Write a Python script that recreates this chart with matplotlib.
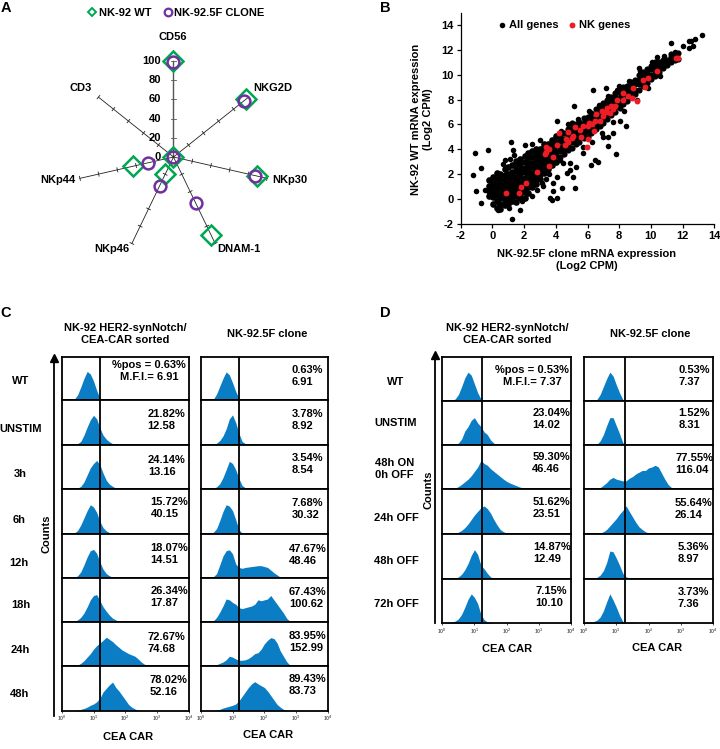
import numpy as np
import matplotlib
matplotlib.use('Agg')
import matplotlib.pyplot as plt
from matplotlib.lines import Line2D

plt.rcParams['font.family'] = ['Liberation Sans', 'DejaVu Sans']
plt.rcParams['font.weight'] = 'bold'
plt.rcParams['mathtext.default'] = 'regular'
plt.rcParams['axes.unicode_minus'] = False

W, H = 720, 749
GREEN = '#00A651'
PURPLE = '#7030A0'
BLUE = '#0B7DC4'
RED = '#EE1C25'

# panel A, % positive per marker
markers = ['CD56', 'NKG2D', 'NKp30', 'DNAM-1', 'NKp46', 'NKp44', 'CD3']
wt_pct = [100, 97, 89, 90, 20, 43, 0]
clone_pct = [99, 94, 87, 53, 33, 27, 0]
radial_ticks = [0, 20, 40, 60, 80, 100]
marker_label_px = [(172.7, 37), (272.7, 88), (290, 180), (239, 249), (112, 249), (58, 180), (81, 88)]

# panel B, scatter (x slice -> y values seen in the dense band)
band_x = [-0.2, 0.02, 0.26, 0.49, 0.77, 1.01, 1.24, 1.52, 1.74, 2.03, 2.27, 2.48, 2.76, 3.02, 3.24, 3.53, 3.77, 4.01]
band_y = [
    [0.2, 0.65, 1.0, 1.55],
    [-0.4, 0.12, 0.5, 0.93, 1.3, 1.8],
    [-0.7, -0.2, 0.33, 0.7, 1.14, 1.6, 2.1],
    [-0.85, -0.4, 0.03, 0.42, 0.8, 1.22, 1.63, 2.0],
    [-0.5, -0.12, 0.3, 0.74, 1.1, 1.52, 1.9, 2.4],
    [-0.4, 0.02, 0.44, 0.8, 1.25, 1.6, 2.03, 2.55],
    [-0.2, 0.2, 0.63, 1.0, 1.42, 1.83, 2.2, 2.72],
    [-0.25, 0.22, 0.6, 1.04, 1.4, 1.8, 2.24, 2.6, 3.02],
    [0.03, 0.4, 0.83, 1.2, 1.64, 2.0, 2.42, 2.8, 3.2],
    [0.1, 0.52, 0.9, 1.33, 1.7, 2.13, 2.5, 2.93, 3.42],
    [0.5, 0.92, 1.3, 1.74, 2.1, 2.52, 2.9, 3.32, 3.7],
    [0.93, 1.3, 1.72, 2.1, 2.53, 2.9, 3.34, 3.82],
    [1.2, 1.63, 2.0, 2.42, 2.8, 3.24, 3.6, 4.03],
    [1.62, 2.0, 2.44, 2.8, 3.22, 3.6, 4.02],
    [2.1, 2.53, 2.9, 3.33, 3.7, 4.14, 4.42],
    [2.42, 2.8, 3.24, 3.6, 4.03, 4.44],
    [2.7, 3.12, 3.5, 3.93, 4.3, 4.73],
    [3.0, 3.44, 3.8, 4.23, 4.6, 5.03],
]
ribbon_x = [4.25, 4.52, 4.74, 5.01, 5.27, 5.48, 5.76, 6.02, 6.24, 6.51, 6.77, 6.99, 7.26, 7.48, 7.76, 8.03, 8.24, 8.52,
            8.74, 9.02, 9.26, 9.49, 9.77, 10.02, 10.24, 10.51, 10.76, 11.02, 11.26, 11.53, 11.74]
ribbon_y = [
    [3.4, 3.83, 4.2, 4.64, 5.02],
    [3.62, 4.0, 4.43, 4.8, 5.33],
    [3.9, 4.32, 4.7, 5.13, 5.6],
    [4.1, 4.54, 4.9, 5.32, 5.7, 6.12],
    [4.42, 4.8, 5.23, 5.6, 6.03],
    [4.6, 5.03, 5.4, 5.84, 6.2],
    [4.92, 5.3, 5.73, 6.1, 6.52],
    [5.0, 5.43, 5.8, 6.24, 6.6],
    [5.3, 5.72, 6.1, 6.53, 6.9],
    [5.62, 6.0, 6.44, 6.8, 7.23],
    [5.9, 6.33, 6.7, 7.14, 7.5],
    [6.12, 6.5, 6.93, 7.3, 7.72],
    [6.4, 6.83, 7.2, 7.63, 8.0],
    [6.72, 7.1, 7.53, 7.9, 8.23],
    [7.0, 7.43, 7.8, 8.22, 8.52],
    [7.3, 7.72, 8.1, 8.53, 8.8],
    [7.62, 8.0, 8.43, 8.8, 9.03],
    [7.9, 8.33, 8.7, 9.12],
    [8.22, 8.6, 9.03, 9.4],
    [8.42, 8.8, 9.23, 9.6],
    [8.8, 9.22, 9.6, 10.0],
    [9.12, 9.5, 9.93, 10.22],
    [9.3, 9.73, 10.1, 10.42],
    [9.62, 10.0, 10.43, 10.7],
    [9.9, 10.32, 10.7, 11.0],
    [10.22, 10.6, 11.03],
    [10.5, 10.93, 11.2],
    [10.82, 11.2],
    [11.0, 11.43, 11.7],
    [11.22, 11.6],
    [11.3, 11.72],
]
stray_genes = [(-1.1, 3.68), (-0.25, 3.9), (-1.2, 1.93), (-0.74, 2.47), (-1.03, 0.66), (-0.74, -0.35), (-0.47, 0.7),
               (1.22, -1.6), (1.72, -0.9), (1.07, -0.7), (0.38, -0.9), (1.2, 4.6), (1.3, 3.9), (1.36, 3.55), (0.8, 3.15),
               (1.1, 3.2), (0.65, 2.8), (2.05, 4.3), (2.5, 4.4), (3.0, 4.75), (4.05, 6.25), (5.17, 7.5), (6.37, 8.73),
               (7.17, 8.9), (7.84, 8.8), (9.27, 10.53), (10.4, 11.4), (11.27, 12.55), (11.52, 11.85), (12.05, 12.28),
               (12.4, 12.68), (12.53, 12.68), (12.78, 12.9), (12.4, 12.15), (12.68, 12.35), (13.2, 13.17), (7.82, 3.65),
               (7.27, 4.27), (7.3, 5.0), (7.63, 5.3), (8.43, 5.9), (8.05, 6.25), (6.68, 2.95), (6.47, 3.1), (6.22, 2.75),
               (5.74, 3.68), (5.3, 2.6), (4.9, 2.33), (5.2, 0.85), (4.4, 0.9), (4.05, 0.05), (3.63, 0.05), (3.74, -0.1),
               (3.85, 0.6), (3.8, 1.25), (3.2, 1.0), (2.8, 0.7), (2.5, 0.2), (1.85, -0.2), (4.9, 4.1), (4.05, 1.8),
               (4.7, 2.07), (5.1, 1.8), (7.0, 5.0), (6.15, 5.3), (5.74, 4.2), (4.9, 2.87), (4.47, 2.87), (4.27, 3.15),
               (3.4, 1.6), (3.1, 1.3), (3.6, 2.0), (4.3, 5.5), (4.8, 6.0), (5.4, 6.4), (6.1, 7.1), (6.7, 7.6), (7.3, 8.3),
               (8.0, 9.1), (8.6, 9.5), (9.3, 10.3), (10.1, 11.0), (10.8, 11.5), (6.3, 4.6), (6.9, 5.3), (7.6, 6.2),
               (8.3, 7.1), (9.1, 8.0), (9.8, 8.9), (10.6, 9.9)]
nk_genes = [(0.85, 0.5), (1.7, 0.5), (1.8, 0.95), (2.15, 1.25), (2.8, 2.2), (3.6, 2.65), (3.35, 3.65), (3.4, 3.75),
            (3.6, 4.05), (3.4, 4.2), (3.85, 3.35), (4.1, 4.3), (4.2, 5.3), (4.55, 4.35), (4.8, 4.6), (4.65, 4.85),
            (4.75, 5.4), (5.0, 4.9), (5.1, 5.05), (5.2, 5.8), (5.6, 5.0), (5.55, 5.55), (5.7, 5.9), (5.95, 4.15),
            (6.0, 4.8), (6.0, 5.9), (6.1, 6.15), (6.3, 6.0), (6.4, 5.5), (6.5, 6.3), (6.55, 6.8), (6.8, 6.3), (6.9, 7.1),
            (7.0, 6.7), (7.15, 7.0), (7.25, 7.3), (7.4, 6.9), (7.5, 7.5), (7.6, 7.2), (7.73, 7.44), (7.84, 7.98),
            (8.26, 8.0), (8.57, 8.25), (8.26, 8.5), (8.9, 8.9), (9.1, 7.85), (8.8, 8.1), (9.5, 9.6), (9.63, 9.05),
            (9.84, 9.7), (10.4, 10.3), (11.6, 11.35), (11.7, 11.35)]

# panels C and D, histogram heights (% of cell height) every 0.1 decade starting at 10^0
c_wt = [0, 0, 0, 0, 2, 12, 30, 50, 66, 60, 44, 22, 4, 0]
c_unstim = [0, 0, 0, 0, 1, 3, 8, 22, 40, 56, 66, 58, 38, 22, 13, 7, 3, 1, 0]
c_3h = [0, 0, 0, 0, 0, 2, 6, 16, 32, 48, 58, 65, 55, 36, 20, 11, 6, 2, 0]
c_6h = [0, 0, 0, 0, 2, 8, 20, 36, 52, 65, 60, 48, 28, 14, 7, 3, 1, 0]
c_12h = [0, 0, 0, 0, 1, 5, 14, 30, 48, 62, 65, 56, 36, 20, 10, 5, 2, 0]
c_18h = [0, 0, 0, 0, 1, 4, 10, 20, 34, 50, 60, 62, 48, 34, 24, 15, 8, 4, 1, 0]
c_24h = [0, 0, 0, 0, 0, 2, 6, 12, 20, 28, 38, 46, 52, 58, 65, 60, 55, 48, 42, 36, 32, 28, 25, 22, 16, 9, 4, 1, 0]
c_48h = [0, 0, 0, 0, 0, 1, 3, 5, 8, 12, 15, 20, 28, 42, 50, 58, 64, 52, 44, 34, 24, 14, 8, 4, 1, 0]
cc_wt = [0, 0, 0, 0, 2, 14, 32, 50, 65, 58, 40, 20, 4, 0]
cc_unstim = [0, 0, 0, 0, 1, 4, 10, 20, 36, 58, 67, 50, 26, 8, 3, 1, 0]
cc_3h = [0, 0, 0, 0, 1, 5, 12, 26, 44, 63, 58, 44, 24, 8, 3, 2, 1, 0]
cc_6h = [0, 0, 0, 1, 4, 12, 30, 50, 65, 62, 52, 32, 10, 2, 1, 1, 1, 1, 1, 1, 0]
cc_12h = [0, 0, 0, 0, 3, 10, 30, 50, 62, 64, 55, 32, 24, 22, 24, 25, 26, 27, 28, 28, 26, 24, 18, 12, 7, 2, 0]
cc_18h = [0, 0, 0, 0, 2, 10, 22, 36, 52, 50, 44, 40, 32, 30, 32, 34, 36, 40, 50, 48, 50, 52, 60, 50, 40, 30, 20, 8, 1, 0]
cc_24h = [0, 0, 0, 0, 1, 3, 6, 9, 14, 22, 20, 16, 13, 13, 14, 17, 22, 28, 30, 38, 50, 58, 64, 62, 52, 34, 22, 10, 2, 0]
cc_48h = [0, 0, 0, 0, 0, 1, 3, 6, 8, 10, 12, 15, 22, 32, 42, 52, 60, 65, 60, 56, 52, 44, 34, 24, 14, 8, 3, 1, 0]
d_wt = [0, 0, 0, 1, 4, 14, 32, 52, 65, 58, 38, 18, 4, 0]
d_unstim = [0, 0, 0, 0, 1, 5, 14, 32, 42, 56, 62, 50, 42, 30, 24, 12, 5, 1, 0]
d_0h = [0, 0, 0, 0, 1, 5, 10, 16, 22, 30, 40, 50, 65, 58, 54, 46, 40, 34, 28, 22, 17, 13, 10, 7, 4, 2, 1, 0]
d_24h = [0, 0, 0, 0, 2, 4, 8, 14, 22, 32, 42, 50, 58, 62, 56, 46, 32, 20, 10, 5, 2, 1, 1, 0]
d_48h = [0, 0, 0, 0, 1, 4, 10, 20, 34, 52, 65, 54, 30, 22, 12, 4, 1, 0]
d_72h = [0, 1, 2, 3, 5, 10, 20, 36, 54, 66, 58, 44, 20, 8, 3, 1, 0]
dc_wt = [0, 0, 0, 0, 3, 14, 32, 50, 65, 56, 36, 18, 3, 0]
dc_unstim = [0, 0, 0, 0, 2, 10, 24, 44, 62, 62, 44, 26, 6, 0]
dc_0h = [0, 0, 0, 0, 0, 2, 8, 14, 22, 26, 22, 20, 18, 18, 24, 28, 34, 38, 42, 42, 48, 50, 54, 50, 36, 22, 10, 3, 0]
dc_24h = [0, 0, 0, 0, 0, 2, 5, 10, 18, 26, 34, 44, 52, 62, 50, 38, 26, 16, 10, 5, 2, 0]
dc_48h = [0, 0, 0, 1, 3, 8, 18, 36, 62, 60, 46, 30, 12, 4, 2, 1, 0]
dc_72h = [1, 2, 3, 4, 7, 14, 28, 48, 66, 52, 36, 18, 4, 2, 1, 1, 0]

c_rows = ['WT', 'UNSTIM', '3h', '6h', '12h', '18h', '24h', '48h']
c_row_px = [(21, 381), (20.5, 429), (20.5, 474), (19, 520), (19, 563), (20.5, 605), (20, 650), (20, 694)]
c_sorted = [c_wt, c_unstim, c_3h, c_6h, c_12h, c_18h, c_24h, c_48h]
c_clone = [cc_wt, cc_unstim, cc_3h, cc_6h, cc_12h, cc_18h, cc_24h, cc_48h]
c_sorted_txt = ['21.82%\n12.58', '24.14%\n13.16', '15.72%\n40.15', '18.07%\n14.51', '26.34%\n17.87', '72.67%\n74.68', '78.02%\n52.16']
c_sorted_txt_px = [(147.7, 420), (148, 466), (150.5, 508), (150.5, 554), (150.5, 597), (148, 643), (150, 686)]
c_clone_txt = ['0.63%\n6.91', '3.78%\n8.92', '3.54%\n8.54', '7.68%\n30.32', '47.67%\n48.46', '67.43%\n100.62', '83.95%\n152.99', '89.43%\n83.73']
c_clone_txt_px = [(292, 376), (292, 420), (292, 464), (292, 508.5), (289, 555), (289, 598), (289, 642), (289, 685)]

d_rows = ['WT', 'UNSTIM', '48h ON\n0h OFF', '24h OFF', '48h OFF', '72h OFF']
d_row_px = [(396, 382), (396, 423), (394.5, 469), (396, 518), (396, 561), (396, 604)]
d_sorted = [d_wt, d_unstim, d_0h, d_24h, d_48h, d_72h]
d_clone = [dc_wt, dc_unstim, dc_0h, dc_24h, dc_48h, dc_72h]
d_sorted_txt = ['23.04%\n14.02', '59.30%\n46.46', '51.62%\n23.51', '14.87%\n12.49', '7.15%\n10.10']
d_sorted_txt_px = [(532.3, 419), (532.3, 463), (533, 508), (533, 553), (535, 597)]
d_clone_txt = ['0.53%\n7.37', '1.52%\n8.31', '77.55%\n116.04', '55.64%\n26.14', '5.36%\n8.97', '3.73%\n7.36']
d_clone_txt_px = [(678.3, 376), (678.3, 419), (675, 464), (675, 509), (678, 553), (678, 598)]


def px_axes(x0, y0, x1, y1):
    return fig.add_axes([x0 / W, 1 - y1 / H, (x1 - x0) / W, (y1 - y0) / H])


def label(x, y, s, size=8, ha='center', **kw):
    fig.text(x / W, 1 - y / H, s, fontsize=size, ha=ha, va='center', linespacing=1.25, **kw)


def hist_cell(x0, y0, x1, y1, heights, gate, bottom):
    ax = px_axes(x0, y0, x1, y1)
    logx = np.arange(len(heights)) * 0.1
    ax.fill_between(10 ** logx, heights, 0, color=BLUE, lw=0)
    ax.axvline(10 ** gate, color='k', lw=1.3)
    ax.set_xscale('log')
    ax.set_xlim(1, 1e4)
    ax.set_ylim(0, 100)
    ax.set_yticks([])
    ax.minorticks_off()
    for s in ax.spines.values():
        s.set_linewidth(1.3)
    if bottom:
        ax.set_xticks([1, 10, 100, 1000, 10000])
        ax.tick_params(axis='x', labelsize=3.8, labelcolor='#666666', length=1.5, width=0.5, pad=1)
    else:
        ax.set_xticks([])
    return ax


def hist_column(x0, x1, edges, curves, gate):
    for i, h in enumerate(curves):
        hist_cell(x0, edges[i], x1, edges[i + 1], h, gate, i == len(curves) - 1)


def counts_arrow(x, y0, y1):
    fig.add_artist(Line2D([x / W, x / W], [1 - y0 / H, 1 - y1 / H], color='k', lw=1.3))
    fig.add_artist(Line2D([x / W], [1 - y0 / H], marker='^', ms=5.5, color='k', lw=0))


fig = plt.figure(figsize=(W / 100, H / 100), dpi=100, facecolor='white')

# A: radar drawn on equal scale axes
cx, cy, unit = 173.5, 157, 0.96
ax = px_axes(60, 45, 290, 260)
ax.set_xlim((60 - cx) / unit, (290 - cx) / unit)
ax.set_ylim((cy - 260) / unit, (cy - 45) / unit)
ax.axis('off')
theta = np.arange(len(markers)) * 2 * np.pi / len(markers)
for i, t in enumerate(theta):
    ux, uy = np.sin(t), np.cos(t)
    lw = 1.0 if i == 0 else 0.6
    col = '#555555' if i == 0 else '#222222'
    ax.plot([0, 100 * ux], [0, 100 * uy], color=col, lw=lw, zorder=1)
    for r in radial_ticks[1:]:
        ax.plot([r * ux - 2.2 * uy, r * ux + 2.2 * uy], [r * uy + 2.2 * ux, r * uy - 2.2 * ux], color=col, lw=0.6, zorder=1)
ax.plot(wt_pct * np.sin(theta), wt_pct * np.cos(theta), ls='none', marker='D', ms=10.5, mfc='none', mec=GREEN, mew=1.8, clip_on=False, zorder=3)
ax.plot(clone_pct * np.sin(theta), clone_pct * np.cos(theta), ls='none', marker='o', ms=8.5, mfc='none', mec=PURPLE, mew=1.8, clip_on=False, zorder=4)
for r in radial_ticks:
    ax.text(-13, r, str(r), fontsize=8, ha='right', va='center')
for name, (x, y) in zip(markers, marker_label_px):
    label(x, y, name)
handles = [Line2D([], [], ls='none', marker='D', ms=4.2, mfc='none', mec=GREEN, mew=1.4),
           Line2D([], [], ls='none', marker='o', ms=5.5, mfc='none', mec=PURPLE, mew=1.6)]
fig.legend(handles, ['NK-92 WT', 'NK-92.5F CLONE'], ncol=2, frameon=False, fontsize=8, loc='center',
           bbox_to_anchor=(175 / W, 1 - 13 / H), handletextpad=0.0, columnspacing=0.85, handlelength=1.2, borderpad=0)

# B: expression scatter
ax = px_axes(460.7, 13, 714.3, 223.7)
for x, ys in zip(band_x, band_y):
    ax.scatter([x] * len(ys), ys, s=23, color='k', lw=0)
for x, ys in zip(ribbon_x, ribbon_y):
    ax.scatter([x] * len(ys), ys, s=20, color='k', lw=0)
stray = np.array(stray_genes)
nk = np.array(nk_genes)
ax.scatter(stray[:, 0], stray[:, 1], s=16, color='k', lw=0, label='All genes')
ax.scatter(nk[:, 0], nk[:, 1], s=18, color=RED, lw=0, label='NK genes', zorder=3)
ax.set_xlim(-2, 14)
ax.set_ylim(-2, 14.97)
ax.set_xticks(np.arange(-2, 15, 2))
ax.set_yticks(np.arange(-2, 15, 2))
ax.tick_params(labelsize=8, length=3, width=0.9, pad=2)
ax.spines[['top', 'right']].set_visible(False)
ax.spines[['left', 'bottom']].set_linewidth(0.9)
ax.legend(ncol=2, frameon=False, fontsize=8, loc='center', bbox_to_anchor=(0.405, 0.942), handletextpad=0.1,
          columnspacing=0.75, handlelength=1.0, borderpad=0)
label(586.7, 260, 'NK-92.5F clone mRNA expression\n(Log2 CPM)')
label(421.7, 119, 'NK-92 WT mRNA expression\n(Log2 CPM)', rotation=90)

# C
c_edges = [356.7, 400, 445, 489, 534, 578, 621.7, 666, 710.7]
hist_column(61.7, 189, c_edges, c_sorted, 1.2)
hist_column(200.7, 328, c_edges, c_clone, 1.2)
for s, (x, y) in zip(c_rows, c_row_px):
    label(x, y, s)
label(149, 371, '%pos = 0.63%\nM.F.I.= 6.91')
for s, (x, y) in zip(c_sorted_txt, c_sorted_txt_px):
    label(x, y, s, ha='left')
for s, (x, y) in zip(c_clone_txt, c_clone_txt_px):
    label(x, y, s, ha='left')
label(125, 334, 'NK-92 HER2-synNotch/\nCEA-CAR sorted')
label(267, 334, 'NK-92.5F clone')
label(128, 737, 'CEA CAR')
label(268, 735, 'CEA CAR')
counts_arrow(54, 358, 716)
label(47, 534, 'Counts', rotation=90)

# D
d_edges = [356.7, 400.7, 445.3, 488.7, 534, 578.7, 623.3]
hist_column(442.3, 571, d_edges, d_sorted, 1.23)
hist_column(584, 713.3, d_edges, d_clone, 1.27)
for s, (x, y) in zip(d_rows, d_row_px):
    label(x, y, s)
label(532, 376, '%pos = 0.53%\nM.F.I.= 7.37')
for s, (x, y) in zip(d_sorted_txt, d_sorted_txt_px):
    label(x, y, s, ha='left')
for s, (x, y) in zip(d_clone_txt, d_clone_txt_px):
    label(x, y, s, ha='left')
label(507, 334, 'NK-92 HER2-synNotch/\nCEA-CAR sorted')
label(650, 334, 'NK-92.5F clone')
label(507, 649, 'CEA CAR')
label(657, 648, 'CEA CAR')
counts_arrow(435, 355, 623)
label(428, 490, 'Counts', rotation=90)

for s, x, y in [('A', 6, 8), ('B', 385, 8), ('C', 6, 313), ('D', 385, 313)]:
    label(x, y, s, size=10.5)

fig.savefig('out.png', dpi=100)
